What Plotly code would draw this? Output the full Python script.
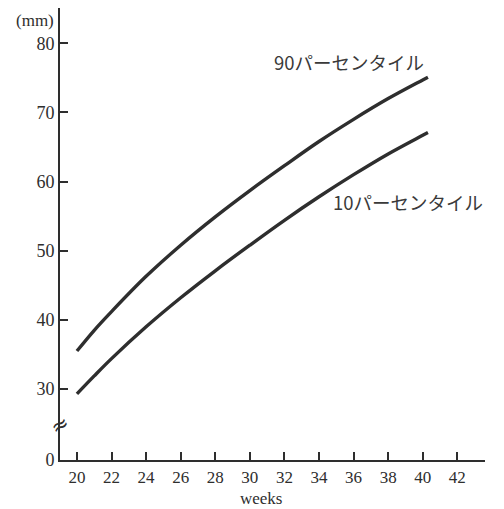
import plotly.graph_objects as go

# ---- data ----
weeks = [20, 21, 22, 24, 26, 28, 30, 32, 34, 36, 38, 40, 40.3]
p90 = [35.5, 38.5, 41.2, 46.3, 50.8, 54.9, 58.7, 62.3, 65.8, 69.0, 72.0, 74.7, 75.1]
p10 = [29.3, 31.9, 34.4, 39.0, 43.2, 47.1, 50.8, 54.4, 57.8, 61.0, 64.0, 66.7, 67.1]

x_ticks = [20, 22, 24, 26, 28, 30, 32, 34, 36, 38, 40, 42]
y_ticks = [30, 40, 50, 60, 70, 80]
y_zero_label = "0"
label_90 = "90パーセンタイル"
label_10 = "10パーセンタイル"
y_unit = "(mm)"
x_title = "weeks"

# broken axis: the "0" baseline sits just below the break
ZERO_POS = 19.74
BREAK_POS = 24.8

ink = "#2e2e2e"
serif = "Liberation Serif, Times New Roman, DejaVu Serif, serif"
jp = "Noto Sans CJK JP, sans-serif"

fig = go.Figure()
for vals in (p90, p10):
    fig.add_trace(go.Scatter(x=weeks, y=vals, mode="lines",
                             line=dict(color=ink, width=3.4, shape="spline", smoothing=1.0),
                             showlegend=False, hoverinfo="skip"))

fig.update_layout(
    width=504, height=509,
    margin=dict(l=60, r=19, t=8, b=49),
    paper_bgcolor="white", plot_bgcolor="white",
    font=dict(family=serif, size=17, color=ink),
)
fig.update_xaxes(range=[19.02, 43.6], tickvals=x_ticks, ticktext=[str(v) for v in x_ticks],
                 ticks="inside", ticklen=8, tickwidth=1.5, tickcolor=ink, ticklabelstandoff=1,
                 showline=True, linecolor=ink, linewidth=1.8, showgrid=False, zeroline=False,
                 tickfont=dict(family=serif, size=17, color=ink))
fig.update_yaxes(range=[ZERO_POS, 85.1], tickvals=[ZERO_POS] + y_ticks,
                 ticktext=[y_zero_label] + [str(v) for v in y_ticks],
                 ticks="inside", ticklen=8, tickwidth=1.5, tickcolor=ink, ticklabelstandoff=0,
                 showline=True, linecolor=ink, linewidth=1.8, showgrid=False, zeroline=False,
                 tickfont=dict(family=serif, size=18, color=ink))

# axis break mark
fig.add_annotation(x=0, xref="paper", y=BREAK_POS, yref="y", text="≈", showarrow=False,
                   font=dict(family="DejaVu Sans", size=21, color=ink), textangle=-30,
                   xanchor="center", yanchor="middle")
# unit label
fig.add_annotation(x=0, xref="paper", xshift=-25, y=1, yref="paper", yshift=-12,
                   text=y_unit, showarrow=False, xanchor="center", yanchor="middle",
                   font=dict(family=serif, size=17, color=ink))
# x title
fig.add_annotation(x=30.64, xref="x", y=0, yref="paper", yshift=-38, text=x_title,
                   showarrow=False, xanchor="center", yanchor="middle",
                   font=dict(family=serif, size=17, color=ink))
# curve labels
fig.add_annotation(x=31.3, xref="x", y=77.3, yref="y", text=label_90, showarrow=False,
                   xanchor="left", yanchor="middle", font=dict(family=jp, size=18.5, color="#3a3a3a"))
fig.add_annotation(x=34.7, xref="x", y=57.0, yref="y", text=label_10, showarrow=False,
                   xanchor="left", yanchor="middle", font=dict(family=jp, size=18.5, color="#3a3a3a"))

# remove the default 8px page margin so the 504x509 figure fills the window
fig.write_html("out.html", config={"displayModeBar": False},
               post_script="document.body.style.margin='0';")
